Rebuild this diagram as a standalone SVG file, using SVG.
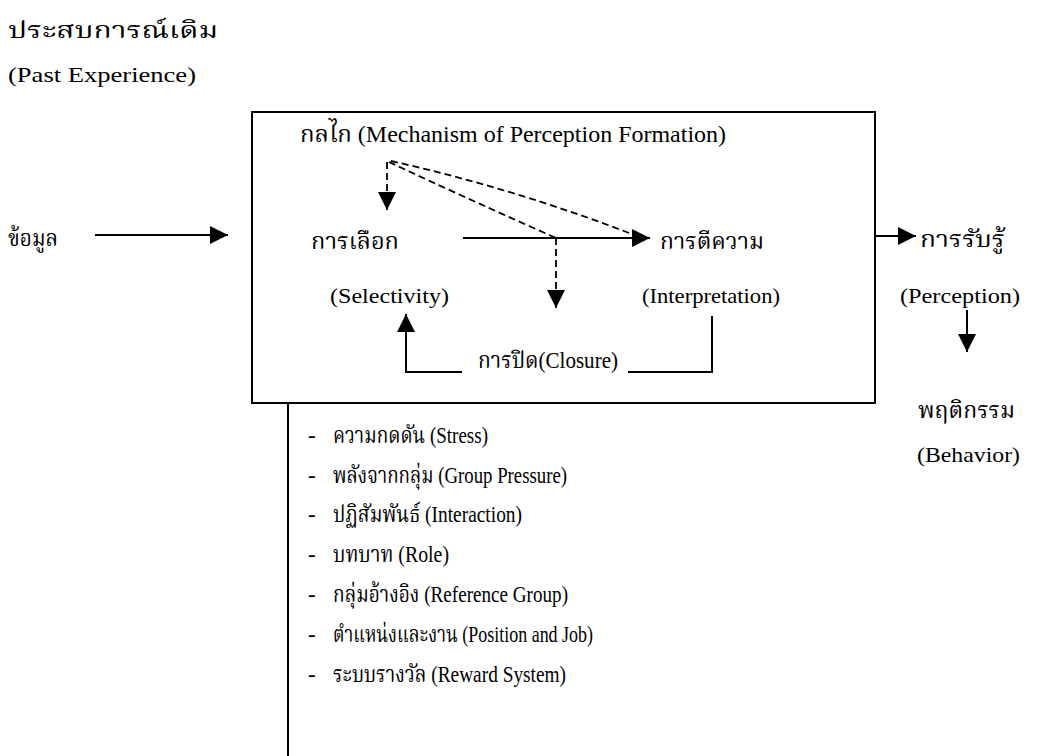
<svg xmlns="http://www.w3.org/2000/svg" width="1041" height="756" viewBox="0 0 1041 756">
<defs>
<style>
text{font-family:"Liberation Serif","Norasi","Kinnari","Noto Serif Thai","Noto Sans Thai Looped","Noto Sans Thai","DejaVu Serif",serif;fill:#000;font-size:21px}
.th{font-size:23px}
.ln{stroke:#000;stroke-width:2;fill:none}
.ds{stroke:#000;stroke-width:1.8;fill:none;stroke-dasharray:7,4}
</style>
<marker id="ah" viewBox="0 0 10 10" refX="10" refY="5" markerWidth="20" markerHeight="18" markerUnits="userSpaceOnUse" orient="auto"><path d="M0,0 L10,5 L0,10 Z" fill="#000"/></marker>
</defs>
<rect width="1041" height="756" fill="#fff"/>
<g id="past"><text class="th" x="8" y="38" textLength="210" lengthAdjust="spacingAndGlyphs">ประสบการณ์เดิม</text>
<text x="8" y="82" textLength="188" lengthAdjust="spacingAndGlyphs">(Past Experience)</text></g>
<g id="data"><text class="th" x="8" y="246" textLength="50" lengthAdjust="spacingAndGlyphs">ข้อมูล</text></g>
<g id="box"><rect x="252" y="112" width="623" height="291" class="ln"/>
<text class="th" x="300" y="142" textLength="426" lengthAdjust="spacingAndGlyphs">กลไก (Mechanism of Perception Formation)</text></g>
<g id="select"><text class="th" x="311" y="249" textLength="88" lengthAdjust="spacingAndGlyphs">การเลือก</text>
<text x="330" y="303" textLength="119" lengthAdjust="spacingAndGlyphs">(Selectivity)</text></g>
<g id="interp"><text class="th" x="660" y="249" textLength="104" lengthAdjust="spacingAndGlyphs">การตีความ</text>
<text x="642" y="303" textLength="138" lengthAdjust="spacingAndGlyphs">(Interpretation)</text></g>
<g id="closure"><text class="th" x="478" y="368" textLength="140" lengthAdjust="spacingAndGlyphs">การปิด(Closure)</text></g>
<g id="percep"><text class="th" x="920" y="247" textLength="85" lengthAdjust="spacingAndGlyphs">การรับรู้</text>
<text x="900" y="303" textLength="120" lengthAdjust="spacingAndGlyphs">(Perception)</text></g>
<g id="behav"><text class="th" x="918" y="418" textLength="97" lengthAdjust="spacingAndGlyphs">พฤติกรรม</text>
<text x="917" y="462" textLength="103" lengthAdjust="spacingAndGlyphs">(Behavior)</text></g>
<g id="factors">
<text class="th" x="308" y="443">-</text><text class="th" x="333" y="443" textLength="155" lengthAdjust="spacingAndGlyphs">ความกดดัน (Stress)</text>
<text class="th" x="308" y="483">-</text><text class="th" x="333" y="483" textLength="234" lengthAdjust="spacingAndGlyphs">พลังจากกลุ่ม (Group  Pressure)</text>
<text class="th" x="308" y="522">-</text><text class="th" x="333" y="522" textLength="189" lengthAdjust="spacingAndGlyphs">ปฏิสัมพันธ์ (Interaction)</text>
<text class="th" x="308" y="562">-</text><text class="th" x="333" y="562" textLength="116" lengthAdjust="spacingAndGlyphs">บทบาท (Role)</text>
<text class="th" x="308" y="602">-</text><text class="th" x="333" y="602" textLength="235" lengthAdjust="spacingAndGlyphs">กลุ่มอ้างอิง (Reference Group)</text>
<text class="th" x="308" y="642">-</text><text class="th" x="333" y="642" textLength="260" lengthAdjust="spacingAndGlyphs">ตำแหน่งและงาน (Position and Job)</text>
<text class="th" x="308" y="682">-</text><text class="th" x="333" y="682" textLength="233" lengthAdjust="spacingAndGlyphs">ระบบรางวัล (Reward System)</text>
</g>
<g id="connectors">
<line x1="95" y1="235" x2="228" y2="235" class="ln" marker-end="url(#ah)"/>
<line x1="463" y1="238" x2="650" y2="238" class="ln" marker-end="url(#ah)"/>
<line x1="875" y1="236" x2="916" y2="236" class="ln" marker-end="url(#ah)"/>
<line x1="967" y1="310" x2="967" y2="352" class="ln" marker-end="url(#ah)"/>
<polyline points="712,316 712,372 628,372" class="ln"/>
<polyline points="462,372 406,372 406,314" class="ln" marker-end="url(#ah)"/>
<line x1="288" y1="403" x2="288" y2="756" class="ln"/>
<path d="M387,162 L387,210" class="ds" marker-end="url(#ah)"/>
<path d="M389,162 Q470,200 556,238" class="ds"/>
<path d="M556,238 L556,308" class="ds" marker-end="url(#ah)"/>
<path d="M391,161 Q520,190 642,238" class="ds"/>
</g>
</svg>
